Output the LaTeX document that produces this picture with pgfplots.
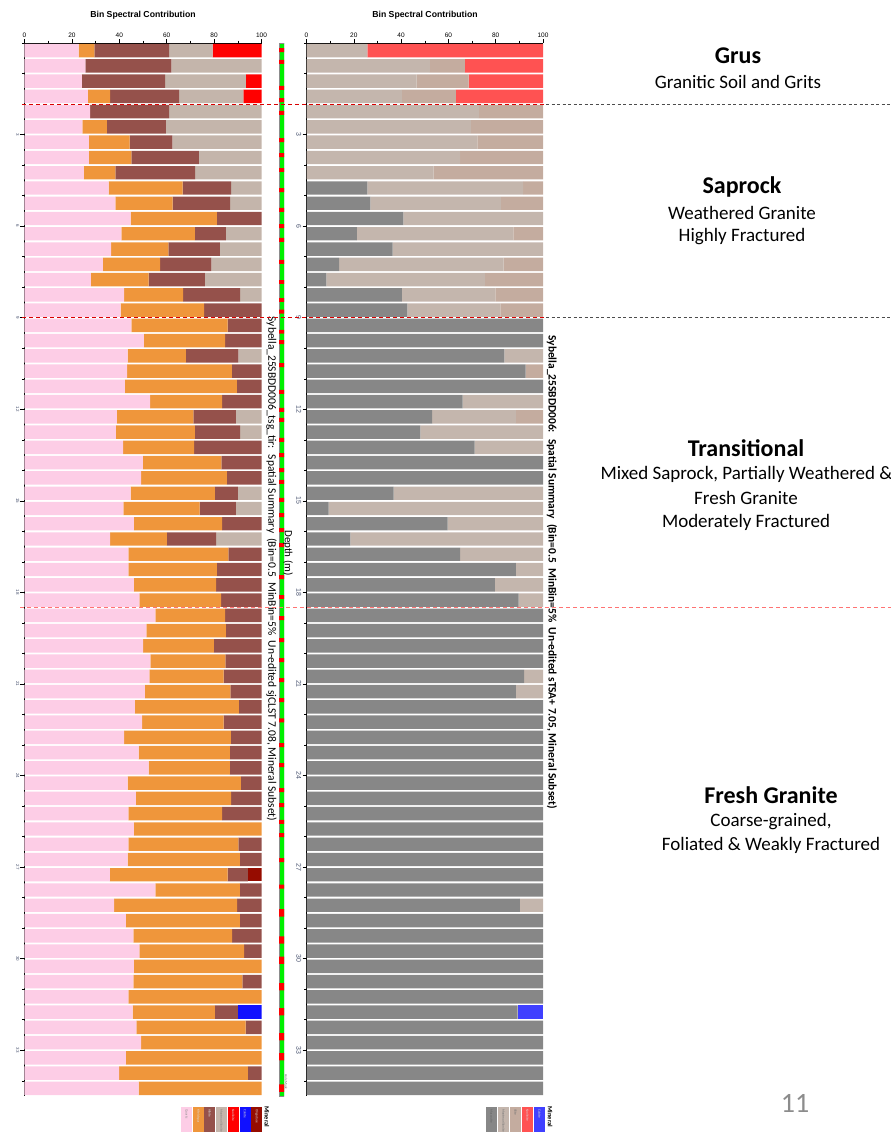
\documentclass[border=0pt]{standalone}
\usepackage{fontspec}
\setmainfont{Carlito}
\newfontfamily\arialfont{Liberation Sans}
\usepackage{pgfplots}
\usepackage{pgfplotstable}
\pgfplotsset{compat=1.18}

\definecolor{cQ}{HTML}{FDCDE6}
\definecolor{cF}{HTML}{EF963B}
\definecolor{cB}{HTML}{95514B}
\definecolor{cM}{HTML}{C4B5AB}
\definecolor{cK}{HTML}{FF0000}
\definecolor{cC}{HTML}{1010FF}
\definecolor{cH}{HTML}{960C00}
\definecolor{rG}{HTML}{878787}
\definecolor{rA}{HTML}{C4B6AD}
\definecolor{rB}{HTML}{C4AC9F}
\definecolor{rR}{HTML}{FF5252}
\definecolor{rC}{HTML}{4040FF}
\definecolor{sG}{HTML}{00F000}
\definecolor{tickc}{HTML}{4A5470}

\pgfplotstableread{
d q f b m k c h
0.25 22.8 6.7 31.5 18.4 20.6 0 0
0.75 25.7 0 36.3 38.0 0 0 0
1.25 24.2 0 35.1 34.1 6.6 0 0
1.75 26.7 9.4 29.1 27.1 7.7 0 0
2.25 27.7 0 33.3 39.0 0 0 0
2.75 24.4 10.4 24.8 40.4 0 0 0
3.25 27.2 17.2 18.0 37.6 0 0 0
3.75 27.2 17.9 28.5 26.4 0 0 0
4.25 25.0 13.3 33.7 28.0 0 0 0
4.75 35.5 31.2 20.5 12.8 0 0 0
5.25 38.3 24.2 24.3 13.2 0 0 0
5.75 44.8 36.4 18.8 0 0 0 0
6.25 40.9 31.0 13.1 15.0 0 0 0
6.75 36.5 24.2 21.7 17.6 0 0 0
7.25 33.1 24.1 21.7 21.1 0 0 0
7.75 28.0 24.4 23.7 23.9 0 0 0
8.25 42.0 24.9 24.1 9.0 0 0 0
8.75 40.6 35.2 24.2 0 0 0 0
9.25 45.1 40.6 14.3 0 0 0 0
9.75 50.4 34.2 15.4 0 0 0 0
10.25 43.5 24.6 22.1 9.8 0 0 0
10.75 43.3 44.2 12.5 0 0 0 0
11.25 42.4 47.2 10.4 0 0 0 0
11.75 53.0 30.4 16.6 0 0 0 0
12.25 39.0 32.3 17.9 10.8 0 0 0
12.75 38.6 33.3 19.1 9.0 0 0 0
13.25 41.6 30.0 28.4 0 0 0 0
13.75 49.9 33.2 16.9 0 0 0 0
14.25 49.2 36.2 14.6 0 0 0 0
14.75 44.8 35.5 9.7 10.0 0 0 0
15.25 41.7 32.2 15.3 10.8 0 0 0
15.75 46.1 37.3 16.6 0 0 0 0
16.25 36.1 24.0 20.8 19.1 0 0 0
16.75 43.8 42.2 14.0 0 0 0 0
17.25 43.8 37.4 18.8 0 0 0 0
17.75 46.1 34.8 19.1 0 0 0 0
18.25 48.5 34.5 17.0 0 0 0 0
18.75 55.2 29.5 15.3 0 0 0 0
19.25 51.4 33.6 15.0 0 0 0 0
19.75 50.1 29.8 20.1 0 0 0 0
20.25 53.1 31.7 15.2 0 0 0 0
20.75 52.7 31.3 16.0 0 0 0 0
21.25 50.8 36.1 13.1 0 0 0 0
21.75 46.6 43.8 9.6 0 0 0 0
22.25 49.6 34.4 16.0 0 0 0 0
22.75 42.0 45.1 12.9 0 0 0 0
23.25 48.2 38.5 13.3 0 0 0 0
23.75 52.4 34.3 13.3 0 0 0 0
24.25 43.5 47.8 8.7 0 0 0 0
24.75 47.0 40.2 12.8 0 0 0 0
25.25 43.8 39.6 16.6 0 0 0 0
25.75 46.1 53.9 0 0 0 0 0
26.25 43.8 46.4 9.8 0 0 0 0
26.75 43.5 47.4 9.1 0 0 0 0
27.25 36.0 49.7 8.5 0 0 0 5.8
27.75 55.2 35.7 9.1 0 0 0 0
28.25 37.8 51.9 10.3 0 0 0 0
28.75 42.8 48.1 9.1 0 0 0 0
29.25 45.9 41.7 12.4 0 0 0 0
29.75 48.5 44.2 7.3 0 0 0 0
30.25 46.2 53.8 0 0 0 0 0
30.75 45.9 46.0 8.1 0 0 0 0
31.25 43.8 56.2 0 0 0 0 0
31.75 45.6 34.7 9.7 0 0 10.0 0
32.25 47.2 46.1 6.7 0 0 0 0
32.75 49.2 50.8 0 0 0 0 0
33.25 42.8 57.2 0 0 0 0 0
33.75 39.9 54.3 5.8 0 0 0 0
34.25 48.2 51.8 0 0 0 0 0
}\tsgtir

\pgfplotstableread{
d g a b r c
0.25 0 25.7 0 74.3 0
0.75 0 52.2 14.8 33.0 0
1.25 0 46.6 21.9 31.5 0
1.75 0 40.3 22.9 36.8 0
2.25 0 72.9 27.1 0 0
2.75 0 69.5 30.5 0 0
3.25 0 72.3 27.7 0 0
3.75 0 65.0 35.0 0 0
4.25 0 53.7 46.3 0 0
4.75 25.7 65.9 8.4 0 0
5.25 27.0 55.2 17.8 0 0
5.75 41.0 59.0 0 0 0
6.25 21.3 66.2 12.5 0 0
6.75 36.4 63.6 0 0 0
7.25 13.8 69.6 16.6 0 0
7.75 8.4 67.0 24.6 0 0
8.25 40.3 39.6 20.1 0 0
8.75 42.7 39.3 18.0 0 0
9.25 100 0 0 0 0
9.75 100 0 0 0 0
10.25 83.7 16.3 0 0 0
10.75 92.6 0 7.4 0 0
11.25 100 0 0 0 0
11.75 66.0 34.0 0 0 0
12.25 53.1 35.4 11.5 0 0
12.75 48.2 51.8 0 0 0
13.25 71.1 28.9 0 0 0
13.75 100 0 0 0 0
14.25 100 0 0 0 0
14.75 36.8 63.2 0 0 0
15.25 9.4 90.6 0 0 0
15.75 59.7 40.3 0 0 0
16.25 18.5 81.5 0 0 0
16.75 65.0 35.0 0 0 0
17.25 88.5 11.5 0 0 0
17.75 79.6 20.4 0 0 0
18.25 89.7 10.3 0 0 0
18.75 100 0 0 0 0
19.25 100 0 0 0 0
19.75 100 0 0 0 0
20.25 100 0 0 0 0
20.75 92.0 8.0 0 0 0
21.25 88.5 11.5 0 0 0
21.75 100 0 0 0 0
22.25 100 0 0 0 0
22.75 100 0 0 0 0
23.25 100 0 0 0 0
23.75 100 0 0 0 0
24.25 100 0 0 0 0
24.75 100 0 0 0 0
25.25 100 0 0 0 0
25.75 100 0 0 0 0
26.25 100 0 0 0 0
26.75 100 0 0 0 0
27.25 100 0 0 0 0
27.75 100 0 0 0 0
28.25 90.2 9.8 0 0 0
28.75 100 0 0 0 0
29.25 100 0 0 0 0
29.75 100 0 0 0 0
30.25 100 0 0 0 0
30.75 100 0 0 0 0
31.25 100 0 0 0 0
31.75 89.3 0 0 0 10.7
32.25 100 0 0 0 0
32.75 100 0 0 0 0
33.25 100 0 0 0 0
33.75 100 0 0 0 0
34.25 100 0 0 0 0
}\tsa

\pgfplotsset{
  panel/.style={
    scale only axis, width=237pt, height=1053pt,
    xmin=0, xmax=100, ymin=0, ymax=34.5, y dir=reverse,
    axis x line*=top, axis y line*=left,
    xbar stacked, bar width=0.44,
    xtick={0,20,...,100}, minor x tick num=1,
    ytick={3,6,...,33}, minor ytick={0,1,...,34},
    tick align=outside, major tick length=4pt, minor tick length=2.5pt,
    tick style={black, line width=0.5pt},
    axis line style={black, line width=0.6pt},
    /pgf/number format/assume math mode=true,
    xticklabel style={font=\arialfont\fontsize{6.5}{7}\selectfont, inner sep=1pt},
    yticklabel style={rotate=-90, anchor=north, inner sep=1pt, text=tickc},
  },
}

\begin{document}
\begin{tikzpicture}[x=1pt,y=1pt]
\path[use as bounding box] (0,0) rectangle (891,-1132);

% ---------- left panel ----------
\begin{axis}[panel, at={(24.5pt,-43pt)}, anchor=north west,
  yticklabel style={font=\arialfont\fontsize{4.5}{5}\selectfont}]
\addplot[fill=cQ, draw=none] table[x=q, y=d] {\tsgtir};
\addplot[fill=cF, draw=none] table[x=f, y=d] {\tsgtir};
\addplot[fill=cB, draw=none] table[x=b, y=d] {\tsgtir};
\addplot[fill=cM, draw=none] table[x=m, y=d] {\tsgtir};
\addplot[fill=cK, draw=none] table[x=k, y=d] {\tsgtir};
\addplot[fill=cC, draw=none] table[x=c, y=d] {\tsgtir};
\addplot[fill=cH, draw=none] table[x=h, y=d] {\tsgtir};
\end{axis}

% ---------- right panel ----------
\begin{axis}[panel, at={(306.5pt,-43pt)}, anchor=north west, width=236.5pt,
  yticklabel style={font=\arialfont\fontsize{7}{8}\selectfont}]
\addplot[fill=rG, draw=none] table[x=g, y=d] {\tsa};
\addplot[fill=rA, draw=none] table[x=a, y=d] {\tsa};
\addplot[fill=rB, draw=none] table[x=b, y=d] {\tsa};
\addplot[fill=rR, draw=none] table[x=r, y=d] {\tsa};
\addplot[fill=rC, draw=none] table[x=c, y=d] {\tsa};
\end{axis}

% ---------- middle strip ----------
\begin{axis}[scale only axis, width=5pt, height=1053pt, at={(279pt,-43pt)}, anchor=north west,
  xmin=0, xmax=1, ymin=0, ymax=34.5, y dir=reverse, hide axis, clip=true]
\addplot[fill=sG, draw=black!45, line width=0.3pt] coordinates {(0,0) (1,0) (1,34.5) (0,34.5) (0,0)};
\addplot[xbar, bar width=0.13, fill=red, draw=none] coordinates {
(1,0.23) (1,0.62) (1,1.47) (1,1.87) (1,2.29) (1,3.18) (1,3.67) (1,4.16) (1,4.82) (1,5.47)
(1,6.00) (1,6.45) (1,7.17) (1,7.83) (1,8.42) (1,8.80) (1,9.46) (1,9.80) (1,10.55) (1,11.43)
(1,12.02) (1,12.35) (1,13.00) (1,13.50) (1,13.99) (1,14.38) (1,14.97) (1,15.47) (1,15.96) (1,16.45)
(1,17.50) (1,18.15) (1,18.84) (1,19.56) (1,20.22) (1,20.87) (1,21.53) (1,22.19) (1,23.00) (1,23.66)
(1,24.48) (1,24.97) (1,25.52) (1,25.95) (1,26.77) (1,27.64)};
\addplot[xbar, bar width=0.24, fill=red, draw=none] coordinates {
(1,28.50) (1,29.39) (1,30.05) (1,30.92) (1,31.74) (1,32.56) (1,33.21) (1,34.24)};
\end{axis}

% ---------- titles ----------
\node[font=\arialfont\bfseries\fontsize{8.7}{9}\selectfont] at (143,-15.5) {Bin Spectral Contribution};
\node[font=\arialfont\bfseries\fontsize{8.7}{9}\selectfont] at (425,-15.5) {Bin Spectral Contribution};

\node[rotate=-90, font=\fontsize{11.5}{12}\selectfont, inner sep=0pt] at (271.5,-569)
  {Sybella\_25SBDD006\_tsg\_tir:~ Spatial Summary~ (Bin=0.5~ MinBin=5\%~ Un-edited sjCLST 7.08, Mineral Subset)};
\node[rotate=-90, font=\bfseries\fontsize{11.4}{12}\selectfont, inner sep=0pt] at (552,-572)
  {Sybella\_25SBDD006:~ Spatial Summary~ (Bin=0.5~ MinBin=5\%~ Un-edited sTSA+ 7.05, Mineral Subset)};
\node[rotate=-90, font=\fontsize{11}{12}\selectfont, inner sep=0pt] at (288,-553) {Depth (m)};
\node[rotate=-90, anchor=west, font=\fontsize{3.5}{4}\selectfont, inner sep=0pt, text=black!60] at (286,-1074) {Hole Mask};

% ---------- boundary lines ----------
\draw[red!85!black, dash pattern=on 4pt off 3pt, line width=0.8pt] (22,-104) -- (546,-104);
\draw[black!70, dash pattern=on 3pt off 2.5pt, line width=0.7pt] (546,-104) -- (891,-104);
\draw[red!85!black, dash pattern=on 4pt off 3pt, line width=0.8pt] (22,-317.5) -- (546,-317.5);
\draw[black!70, dash pattern=on 3pt off 2.5pt, line width=0.7pt] (546,-317.5) -- (891,-317.5);
\draw[red!55, dash pattern=on 4pt off 3pt, line width=1pt] (20,-607.5) -- (891,-607.5);

% ---------- annotations ----------
\node[font=\bfseries\fontsize{24}{26}\selectfont] at (738,-56) {Grus};
\node[font=\fontsize{19}{21}\selectfont] at (738,-82) {Granitic Soil and Grits};
\node[font=\bfseries\fontsize{24}{26}\selectfont] at (742,-187) {Saprock};
\node[font=\fontsize{19}{21}\selectfont] at (742,-213) {Weathered Granite};
\node[font=\fontsize{19}{21}\selectfont] at (742,-237) {Highly Fractured};
\node[font=\bfseries\fontsize{24}{26}\selectfont] at (746,-448) {Transitional};
\node[font=\fontsize{19}{21}\selectfont, anchor=west] at (597,-474) {Mixed Saprock, Partially Weathered \&};
\node[font=\fontsize{19}{21}\selectfont] at (746,-498) {Fresh Granite};
\node[font=\fontsize{19}{21}\selectfont] at (746,-522) {Moderately Fractured};
\node[font=\bfseries\fontsize{24}{26}\selectfont] at (771,-795) {Fresh Granite};
\node[font=\fontsize{19}{21}\selectfont] at (771,-822) {Coarse-grained,};
\node[font=\fontsize{19}{21}\selectfont] at (771,-845) {Foliated \& Weakly Fractured};
\node[font=\fontsize{28}{30}\selectfont, text=black!45] at (795,-1103) {11};

% ---------- legends ----------
\foreach \c/\t/\tc [count=\i from 0] in {cQ/Quartz/black!45, cF/K-feldspar/white!85!black, cB/Albite/white!85!black, cM/Montmorillonite/black!50, cK/Kaolinite/white!85!black, cC/Calcite/white!85!black, cH/Oligoclase/white!85!black} {
  \fill[\c] ({181+11.7*\i},-1107) rectangle ++(11,-25);
  \node[rotate=-90, anchor=west, font=\fontsize{3.4}{4}\selectfont, inner sep=0pt, text=\tc] at ({186.5+11.7*\i},-1109) {\t};
}
\node[rotate=-90, anchor=west, font=\bfseries\fontsize{6.5}{7}\selectfont, inner sep=0pt] at (267,-1106) {Mineral};
\foreach \c/\t/\tc [count=\i from 0] in {rG/Muscovite/black!60, rA/Montmorillonite/black!55, rB/Illite/black!55, rR/Kaolinite/white!85!black, rC/Calcite/white!85!black} {
  \fill[\c] ({486+12*\i},-1107) rectangle ++(11.3,-25);
  \node[rotate=-90, anchor=west, font=\fontsize{3.4}{4}\selectfont, inner sep=0pt, text=\tc] at ({491.6+12*\i},-1109) {\t};
}
\node[rotate=-90, anchor=west, font=\bfseries\fontsize{6.5}{7}\selectfont, inner sep=0pt] at (550,-1106) {Mineral};
\end{tikzpicture}
\end{document}
